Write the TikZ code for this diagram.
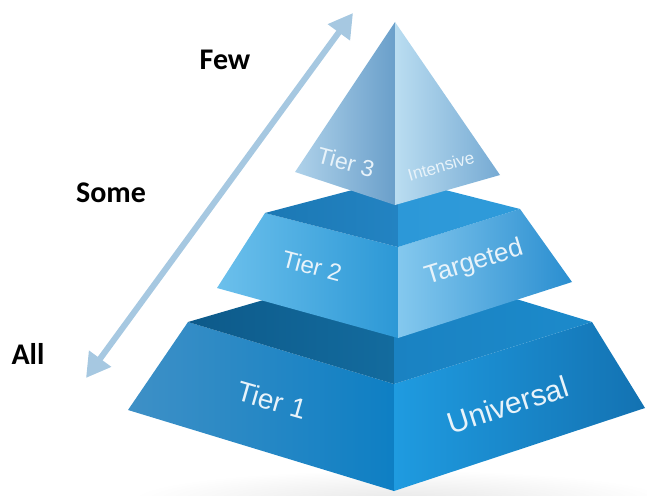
\documentclass[tikz,border=0pt]{standalone}
\usepackage{fontspec}
\setmainfont{Liberation Sans}
\newfontfamily\sidefont{Carlito}
\usetikzlibrary{arrows.meta}

\definecolor{arrowblue}{HTML}{A6C8E1}
\definecolor{facetext}{HTML}{E8F3FA}
% tier 1 shades
\definecolor{oneLa}{HTML}{3E90C6}
\definecolor{oneLb}{HTML}{0E7FC4}
\definecolor{oneRa}{HTML}{1F9BE0}
\definecolor{oneRb}{HTML}{1372B2}
\definecolor{oneTa}{HTML}{0D5A8A}
\definecolor{oneTb}{HTML}{136B9E}
\definecolor{oneSa}{HTML}{1A82C2}
\definecolor{oneSb}{HTML}{1C8ACB}
% tier 2 shades
\definecolor{twoLa}{HTML}{6CC0EC}
\definecolor{twoLb}{HTML}{2C98D6}
\definecolor{twoRa}{HTML}{84C8EE}
\definecolor{twoRb}{HTML}{2A8ED0}
\definecolor{twoTa}{HTML}{1B78B4}
\definecolor{twoTb}{HTML}{2383C2}
\definecolor{twoSa}{HTML}{2C98D8}
\definecolor{twoSb}{HTML}{2F9BDA}
% tier 3 shades
\definecolor{threeLa}{HTML}{AFD2EA}
\definecolor{threeLb}{HTML}{6A9FCA}
\definecolor{threeRa}{HTML}{BADDF1}
\definecolor{threeRb}{HTML}{76AAD3}

\tikzset{
  sidelabel/.style={font=\sidefont\bfseries\fontsize{30}{30}\selectfont, text=black, inner sep=0pt},
  tierlabel/.style={text=facetext, inner sep=0pt},
  scalearrow/.style={draw=arrowblue, line width=6pt,
    {Triangle[length=24pt,width=26pt]}-{Triangle[length=24pt,width=26pt]}},
}

\begin{document}
\begin{tikzpicture}[x=1pt,y=-1pt]
\useasboundingbox (0,0) rectangle (647,495);

% faint floor shadow below the base
\begin{scope}
  \clip (0,470) rectangle (647,495);
  \shade[inner color=black!9, outer color=white] (400,500) ellipse [x radius=270, y radius=30];
\end{scope}

% ---------- Tier 1 (base frustum) ----------
\coordinate (t1l) at (188,322);
\coordinate (t1f) at (394,384);
\coordinate (t1r) at (592,322);
\coordinate (t1b) at (394,262);
\coordinate (b1l) at (128,410);
\coordinate (b1f) at (394,491);
\coordinate (b1r) at (645,408);

\shade[left color=oneLa, right color=oneLb] (t1l) -- (t1f) -- (b1f) -- (b1l) -- cycle;
\shade[left color=oneRa, right color=oneRb] (t1f) -- (t1r) -- (b1r) -- (b1f) -- cycle;
\shade[left color=oneTa, right color=oneTb] (t1l) -- (t1b) -- (t1f) -- cycle;
\shade[left color=oneSa, right color=oneSb] (t1b) -- (t1r) -- (t1f) -- cycle;

% ---------- Tier 2 (middle frustum) ----------
\coordinate (t2l) at (265,213);
\coordinate (t2f) at (398,247);
\coordinate (t2r) at (520,209);
\coordinate (t2b) at (398,178);
\coordinate (b2l) at (217,288);
\coordinate (b2f) at (398,338);
\coordinate (b2r) at (572,282);

\shade[left color=twoLa, right color=twoLb] (t2l) -- (t2f) -- (b2f) -- (b2l) -- cycle;
\shade[left color=twoRa, right color=twoRb] (t2f) -- (t2r) -- (b2r) -- (b2f) -- cycle;
\shade[left color=twoTa, right color=twoTb] (t2l) -- (t2b) -- (t2f) -- cycle;
\shade[left color=twoSa, right color=twoSb] (t2b) -- (t2r) -- (t2f) -- cycle;

% ---------- Tier 3 (top pyramid) ----------
\coordinate (apex) at (395,22);
\coordinate (b3l) at (295,172);
\coordinate (b3f) at (395,205);
\coordinate (b3r) at (500,175);

\shade[left color=threeLa, right color=threeLb] (apex) -- (b3f) -- (b3l) -- cycle;
\shade[left color=threeRa, right color=threeRb] (apex) -- (b3r) -- (b3f) -- cycle;

% ---------- tier labels ----------
\node[tierlabel, font=\fontsize{23}{23}\selectfont, rotate=-15] (tier3) at (346,162) {Tier 3};
\node[tierlabel, font=\fontsize{17}{17}\selectfont, rotate=16] (intensive) at (441,166) {Intensive};
\node[tierlabel, font=\fontsize{24}{24}\selectfont, rotate=-15] (tier2) at (312,266) {Tier 2};
\node[tierlabel, font=\fontsize{26}{26}\selectfont, rotate=17] (targeted) at (474,263) {Targeted};
\node[tierlabel, font=\fontsize{28}{28}\selectfont, rotate=-16] (tier1) at (272,400) {Tier 1};
\node[tierlabel, font=\fontsize{30}{30}\selectfont, rotate=18] (universal) at (508,405) {Universal};

% ---------- scale arrow and its labels ----------
\coordinate (arrowlow) at (86,378);
\coordinate (arrowhigh) at (353,13);
\draw[scalearrow] (arrowlow) -- (arrowhigh);

\node[sidelabel] (few) at (225,60) {Few};
\node[sidelabel] (some) at (111,193) {Some};
\node[sidelabel] (all) at (28,354) {All};
\end{tikzpicture}
\end{document}
